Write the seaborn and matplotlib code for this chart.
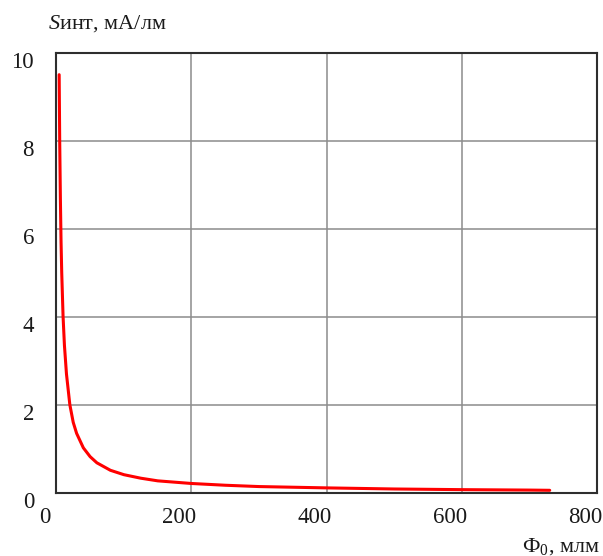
import matplotlib
matplotlib.use('Agg')
import matplotlib.pyplot as plt
import matplotlib.transforms as mtransforms
import seaborn as sns
import pandas as pd

# значения
flux = [4.2, 5, 6, 7, 8, 10, 12, 15, 20, 25, 30, 40, 50, 60, 80, 100,
        125, 150, 200, 250, 300, 400, 500, 600, 700, 730]
sens = [9.5, 8.0, 6.7, 5.7, 5.0, 4.0, 3.35, 2.7, 2.0, 1.6, 1.35, 1.02,
        0.82, 0.68, 0.51, 0.41, 0.33, 0.27, 0.21, 0.17, 0.14, 0.11,
        0.085, 0.07, 0.06, 0.055]
x_ticks = [0, 200, 400, 600, 800]
y_ticks = [0, 2, 4, 6, 8, 10]

df = pd.DataFrame({'flux': flux, 'sens': sens})

sns.set_style('white')
plt.rcParams['font.family'] = ['Liberation Serif', 'DejaVu Serif']
plt.rcParams['mathtext.fontset'] = 'custom'
plt.rcParams['mathtext.rm'] = 'Liberation Serif'
plt.rcParams['mathtext.it'] = 'Liberation Serif:italic'

fig = plt.figure(figsize=(6.03, 5.56), dpi=100)
ax = fig.add_axes([0.0934, 0.1138, 0.8967, 0.7914])

sns.lineplot(data=df, x='flux', y='sens', ax=ax, color='#ff0000',
             linewidth=2.2, estimator=None, sort=False)

ax.set_xlim(0, 800)
ax.set_ylim(0, 10)
ax.set_xticks(x_ticks)
ax.set_yticks(y_ticks)
ax.set_xlabel('')
ax.set_ylabel('')
ax.grid(True, color='#8c8c8c', linewidth=1.1)
ax.set_axisbelow(True)
for sp in ax.spines.values():
    sp.set_color('#2e2e2e')
    sp.set_linewidth(1.5)
    sp.set_visible(True)

ax.tick_params(axis='both', length=0, labelsize=16.5, colors='#1a1a1a')
ax.tick_params(axis='y', pad=16)
ax.tick_params(axis='x', pad=10)

# подписи делений смещены как на оригинале
dx = mtransforms.ScaledTranslation(-12 / 100, 0, fig.dpi_scale_trans)
for lab in ax.get_xticklabels():
    lab.set_transform(lab.get_transform() + dx)
dy = mtransforms.ScaledTranslation(0, -7 / 100, fig.dpi_scale_trans)
for lab in ax.get_yticklabels():
    lab.set_transform(lab.get_transform() + dy)

fig.text(48 / 603, 1 - 29 / 556, '$S$инт, мА/лм', fontsize=16,
         ha='left', va='baseline', color='#1a1a1a')
fig.text(600 / 603, 4 / 556, '$\\mathrm{Ф}_{0}$, млм', fontsize=16,
         ha='right', va='baseline', color='#1a1a1a')

fig.savefig('out.png', dpi=100)
